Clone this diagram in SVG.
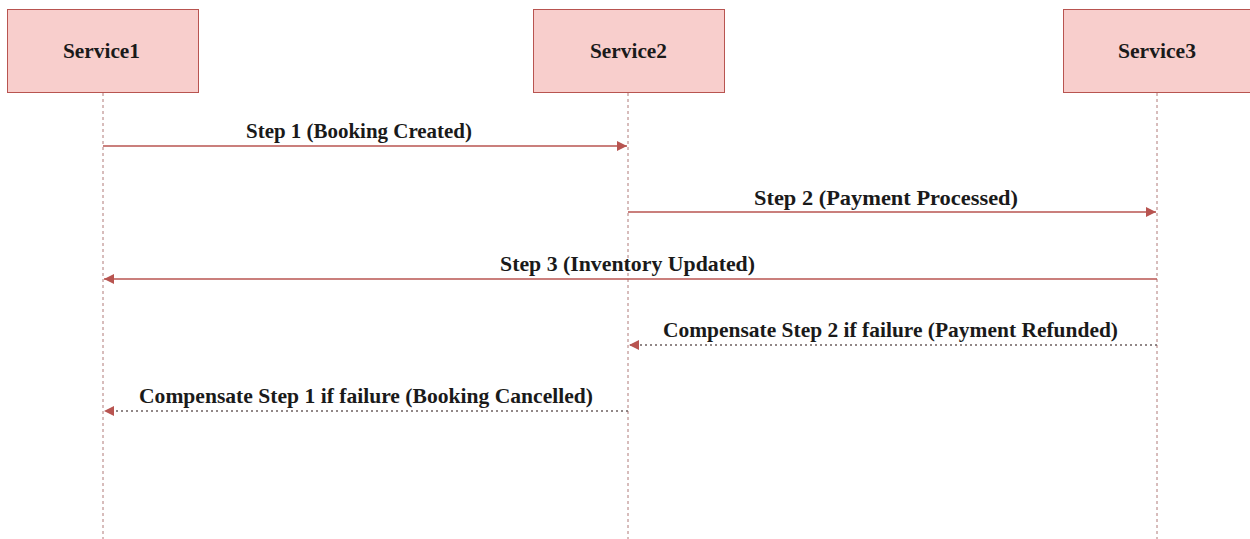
<svg xmlns="http://www.w3.org/2000/svg" width="1250" height="539" viewBox="0 0 1250 539">
<style>
.box{fill:#f8cecc;stroke:#b85450;stroke-width:1}
.lbl{font-family:"Liberation Serif","Times New Roman",serif;font-weight:bold;font-size:21px;fill:#1a1a1a;text-anchor:middle}
.life{stroke:#b07a78;stroke-width:1;stroke-dasharray:3,3;fill:none}
.msg{stroke:#b85450;stroke-width:1.3;fill:none}
.ret{stroke:#6e6060;stroke-width:1.3;stroke-dasharray:2,3;fill:none}
</style>
<defs>
<marker id="ah" viewBox="0 0 10 10" refX="10" refY="5" markerWidth="10" markerHeight="10" markerUnits="userSpaceOnUse" orient="auto">
<path d="M0,0 L10,5 L0,10 Z" fill="#b85450"/>
</marker>
</defs>
<rect width="1250" height="539" fill="#ffffff"/>
<g id="service1">
<rect class="box" x="7.5" y="9.5" width="191" height="83"/>
<text class="lbl" x="101.5" y="58" textLength="77" lengthAdjust="spacingAndGlyphs">Service1</text>
</g>
<g id="service2">
<rect class="box" x="533.5" y="9.5" width="191" height="83"/>
<text class="lbl" x="628.5" y="58" textLength="77" lengthAdjust="spacingAndGlyphs">Service2</text>
</g>
<g id="service3">
<rect class="box" x="1063.5" y="9.5" width="200" height="83"/>
<text class="lbl" x="1157" y="58" textLength="78" lengthAdjust="spacingAndGlyphs">Service3</text>
</g>
<g id="connectors">
<line class="life" x1="103" y1="93" x2="103" y2="539"/>
<line class="life" x1="628" y1="93" x2="628" y2="539"/>
<line class="life" x1="1157" y1="93" x2="1157" y2="539"/>
<line class="msg" x1="103" y1="146" x2="627" y2="146" marker-end="url(#ah)"/>
<line class="msg" x1="628" y1="212" x2="1156" y2="212" marker-end="url(#ah)"/>
<line class="msg" x1="1157" y1="279" x2="104" y2="279" marker-end="url(#ah)"/>
<line class="ret" x1="1157" y1="345" x2="629" y2="345" marker-end="url(#ah)"/>
<line class="ret" x1="628" y1="411" x2="104" y2="411" marker-end="url(#ah)"/>
</g>
<g id="labels">
<text class="lbl" x="359" y="138" textLength="226" lengthAdjust="spacingAndGlyphs">Step 1 (Booking Created)</text>
<text class="lbl" x="886" y="205" textLength="264" lengthAdjust="spacingAndGlyphs">Step 2 (Payment Processed)</text>
<text class="lbl" x="627.5" y="271" textLength="255" lengthAdjust="spacingAndGlyphs">Step 3 (Inventory Updated)</text>
<text class="lbl" x="890.5" y="337" textLength="455" lengthAdjust="spacingAndGlyphs">Compensate Step 2 if failure (Payment Refunded)</text>
<text class="lbl" x="366" y="403" textLength="454" lengthAdjust="spacingAndGlyphs">Compensate Step 1 if failure (Booking Cancelled)</text>
</g>
</svg>
